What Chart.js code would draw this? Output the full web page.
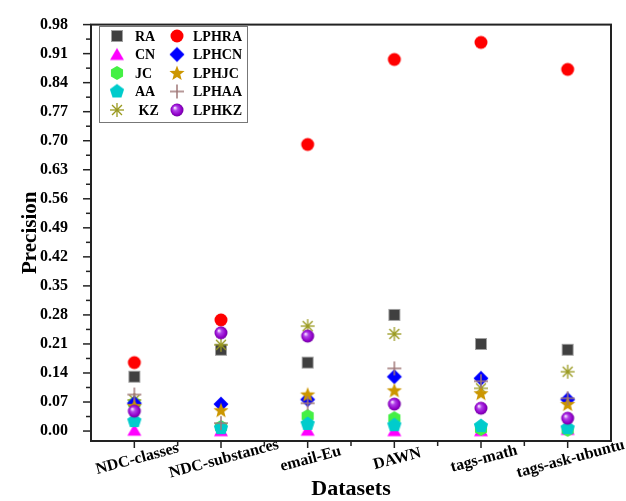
<!DOCTYPE html>
<html>
<head>
<meta charset="utf-8">
<title>Precision by dataset</title>
<script src="https://cdn.jsdelivr.net/npm/chart.js@4.4.0/dist/chart.umd.min.js"></script>
<style>
    html, body { margin: 0; padding: 0; background: #fff; }
    canvas { display: block; }
</style>
</head>
<body>
<canvas id="precisionChart" width="626" height="501"></canvas>
<script>
const datasetNames = ['NDC-classes', 'NDC-substances', 'email-Eu', 'DAWN', 'tags-math', 'tags-ask-ubuntu'];
const yTicks = [0, 0.07, 0.14, 0.21, 0.28, 0.35, 0.42, 0.49, 0.56, 0.63, 0.70, 0.77, 0.84, 0.91, 0.98];

const RA    = [0.131, 0.196, 0.165, 0.280, 0.210, 0.196];
const CN    = [0.002, 0.001, 0.002, 0.001, 0.001, 0.004];
const JC    = [0.067, 0.010, 0.036, 0.031, 0.005, 0.003];
const AA    = [0.024, 0.007, 0.017, 0.014, 0.012, 0.007];
const KZ    = [0.075, 0.208, 0.253, 0.234, 0.103, 0.143];
const LPHRA = [0.165, 0.268, 0.691, 0.896, 0.937, 0.872];
const LPHCN = [0.067, 0.065, 0.076, 0.131, 0.127, 0.076];
const LPHJC = [0.060, 0.050, 0.088, 0.098, 0.091, 0.065];
const LPHAA = [0.088, 0.019, 0.067, 0.151, 0.120, 0.079];
const LPHKZ = [0.048, 0.237, 0.229, 0.065, 0.055, 0.031];

// marker images, drawn once and reused by points and legend
function makeMarker(shape, color) {
    const c = document.createElement('canvas');
    c.width = 18;
    c.height = 18;
    const g = c.getContext('2d');
    const m = 9;
    g.fillStyle = color;
    g.strokeStyle = color;

    function polygon(n, r, start) {
        g.beginPath();
        for (let k = 0; k < n; k++) {
            const a = start + k * 2 * Math.PI / n;
            g.lineTo(m + r * Math.cos(a), m + r * Math.sin(a));
        }
        g.closePath();
        g.fill();
    }

    if (shape === 'square') {
        g.fillRect(m - 5.5, m - 5.5, 11, 11);
        g.strokeStyle = '#a0a0a0';
        g.lineWidth = 1;
        g.strokeRect(m - 5.5, m - 5.5, 11, 11);
    } else if (shape === 'triangle') {
        g.beginPath();
        g.moveTo(m, m - 6.5);
        g.lineTo(m + 7, m + 5.5);
        g.lineTo(m - 7, m + 5.5);
        g.closePath();
        g.fill();
    } else if (shape === 'hexagon') {
        polygon(6, 7, -Math.PI / 2);
    } else if (shape === 'pentagon') {
        polygon(5, 7.5, -Math.PI / 2);
    } else if (shape === 'asterisk') {
        g.lineWidth = 1.3;
        for (let k = 0; k < 4; k++) {
            const a = k * Math.PI / 4;
            g.beginPath();
            g.moveTo(m - 7 * Math.cos(a), m - 7 * Math.sin(a));
            g.lineTo(m + 7 * Math.cos(a), m + 7 * Math.sin(a));
            g.stroke();
        }
        g.beginPath();
        g.arc(m, m, 1.6, 0, 2 * Math.PI);
        g.fill();
    } else if (shape === 'circle') {
        g.beginPath();
        g.arc(m, m, 6.5, 0, 2 * Math.PI);
        g.fill();
    } else if (shape === 'diamond') {
        polygon(4, 7.5, -Math.PI / 2);
    } else if (shape === 'star') {
        g.beginPath();
        for (let k = 0; k < 10; k++) {
            const r = k % 2 === 0 ? 8 : 3.4;
            const a = -Math.PI / 2 + k * Math.PI / 5;
            g.lineTo(m + r * Math.cos(a), m + 0.5 + r * Math.sin(a));
        }
        g.closePath();
        g.fill();
    } else if (shape === 'plus') {
        g.lineWidth = 1.5;
        g.beginPath();
        g.moveTo(m - 7, m);
        g.lineTo(m + 7, m);
        g.moveTo(m, m - 7);
        g.lineTo(m, m + 7);
        g.stroke();
    } else if (shape === 'sphere') {
        const grad = g.createRadialGradient(m - 2.2, m - 2.2, 0.5, m, m, 6.8);
        grad.addColorStop(0, '#f4dcff');
        grad.addColorStop(0.3, '#b040e8');
        grad.addColorStop(0.75, '#9000c8');
        grad.addColorStop(1, '#6a0098');
        g.fillStyle = grad;
        g.beginPath();
        g.arc(m, m, 6.5, 0, 2 * Math.PI);
        g.fill();
    }
    return c;
}

const series = [
    { label: 'RA',    data: RA,    marker: makeMarker('square', '#404040') },
    { label: 'CN',    data: CN,    marker: makeMarker('triangle', '#ff00ff') },
    { label: 'JC',    data: JC,    marker: makeMarker('hexagon', '#44f044') },
    { label: 'AA',    data: AA,    marker: makeMarker('pentagon', '#00cccc') },
    { label: ' KZ',   data: KZ,    marker: makeMarker('asterisk', '#9a9a20') },
    { label: 'LPHRA', data: LPHRA, marker: makeMarker('circle', '#ff0000') },
    { label: 'LPHCN', data: LPHCN, marker: makeMarker('diamond', '#0000ff') },
    { label: 'LPHJC', data: LPHJC, marker: makeMarker('star', '#cc9600') },
    { label: 'LPHAA', data: LPHAA, marker: makeMarker('plus', '#a07878') },
    { label: 'LPHKZ', data: LPHKZ, marker: makeMarker('sphere', '#9900cc') },
];

const serif = '"Liberation Serif", "Times New Roman", serif';

function line(ctx, x1, y1, x2, y2) {
    ctx.beginPath();
    ctx.moveTo(x1, y1);
    ctx.lineTo(x2, y2);
    ctx.stroke();
}

const axisDecor = {
    id: 'axisDecor',
    beforeDraw(chart) {
        const ctx = chart.ctx;
        ctx.save();
        ctx.fillStyle = '#fff';
        ctx.fillRect(0, 0, chart.width, chart.height);
        ctx.restore();
    },
    afterDraw(chart) {
        const { ctx, chartArea: a, scales: { x, y } } = chart;
        ctx.save();
        ctx.strokeStyle = '#222';
        ctx.lineWidth = 2;
        ctx.strokeRect(a.left, a.top, a.right - a.left, a.bottom - a.top);

        // tick marks, outward, with minor ticks
        ctx.lineWidth = 1.5;
        yTicks.forEach((v, i) => {
            const py = y.getPixelForValue(v);
            line(ctx, a.left - 8, py, a.left, py);
            if (i < yTicks.length - 1) {
                const my = y.getPixelForValue(v + 0.035);
                line(ctx, a.left - 5, my, a.left, my);
            }
        });
        const step = x.getPixelForValue(1) - x.getPixelForValue(0);
        datasetNames.forEach((name, i) => {
            const px = x.getPixelForValue(i);
            line(ctx, px, a.bottom, px, a.bottom + 7);
            if (i < datasetNames.length - 1) {
                line(ctx, px + step / 2, a.bottom, px + step / 2, a.bottom + 5);
            }
        });

        // rotated category labels
        ctx.fillStyle = '#000';
        ctx.font = 'bold 16px ' + serif;
        ctx.textAlign = 'center';
        ctx.textBaseline = 'middle';
        datasetNames.forEach((name, i) => {
            ctx.save();
            ctx.translate(x.getPixelForValue(i) + 3, 459);
            ctx.rotate(-15 * Math.PI / 180);
            ctx.fillText(name, 0, 0);
            ctx.restore();
        });

        // axis titles
        ctx.font = 'bold 22px ' + serif;
        ctx.textBaseline = 'alphabetic';
        ctx.fillText('Datasets', (a.left + a.right) / 2, 495);
        ctx.save();
        ctx.translate(36, (a.top + a.bottom) / 2);
        ctx.rotate(-Math.PI / 2);
        ctx.font = 'bold 21px ' + serif;
        ctx.fillText('Precision', 0, 0);
        ctx.restore();

        // legend box, two columns
        ctx.strokeStyle = '#777';
        ctx.lineWidth = 1;
        ctx.strokeRect(99.5, 26.5, 148, 96);
        ctx.font = 'bold 14px ' + serif;
        ctx.textAlign = 'left';
        ctx.textBaseline = 'middle';
        series.forEach((s, i) => {
            const col = Math.floor(i / 5);
            const row = i % 5;
            const cy = 36 + row * 18.5;
            const mx = col === 0 ? 117 : 177;
            const tx = col === 0 ? 135 : 193;
            ctx.drawImage(s.marker, mx - 9, cy - 9);
            ctx.fillText(s.label, tx, cy + 1);
        });
        ctx.restore();
    }
};

const ctx = document.getElementById('precisionChart').getContext('2d');
const chart = new Chart(ctx, {
    type: 'line',
    data: {
        labels: datasetNames,
        datasets: series.map((s, i) => ({
            label: s.label.trim(),
            data: s.data,
            showLine: false,
            pointStyle: s.marker,
            pointRadius: 7,
            pointHoverRadius: 7,
            order: series.length - i,
        })),
    },
    options: {
        responsive: false,
        animation: false,
        layout: { padding: { top: 20, right: 15, left: 0, bottom: 0 } },
        plugins: {
            legend: { display: false },
            tooltip: { enabled: false },
        },
        scales: {
            x: {
                offset: true,
                grid: { display: false },
                border: { display: false },
                ticks: { display: false },
                afterFit: (scale) => { scale.height = 60; },
            },
            y: {
                min: -0.024,
                max: 0.98,
                grid: { display: false },
                border: { display: false },
                afterBuildTicks: (scale) => {
                    scale.ticks = yTicks.map((v) => ({ value: v }));
                },
                ticks: {
                    padding: 15,
                    color: '#000',
                    font: { family: serif, size: 16, weight: 'bold' },
                    callback: (value) => Number(value).toFixed(2),
                },
                afterFit: (scale) => { scale.width = 91; },
            },
        },
    },
    plugins: [axisDecor],
});
</script>
</body>
</html>
